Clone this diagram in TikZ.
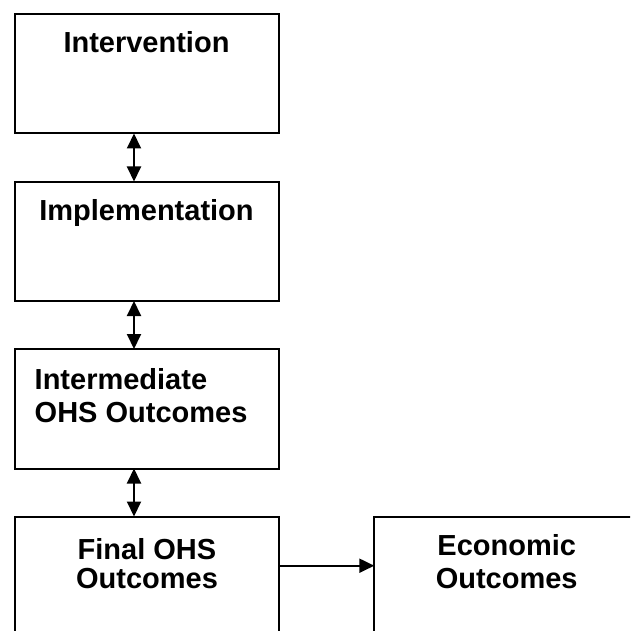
\documentclass[tikz,border=0pt]{standalone}
\usepackage{fontspec}
\setmainfont{Liberation Sans}
\usetikzlibrary{arrows.meta}
\begin{document}
\begin{tikzpicture}[x=1pt,y=-1pt,
  box/.style={draw=black, line width=2pt, rectangle, anchor=north west,
    minimum width=264pt, minimum height=119.5pt, inner sep=0pt, outer sep=0pt},
  widebox/.style={box, minimum width=270pt},
  lbl/.style={font=\fontsize{29}{34}\selectfont\bfseries, inner sep=0pt, anchor=base},
  lbll/.style={lbl, anchor=base west},
  link/.style={line width=2pt, {Triangle[length=15pt,width=14pt]}-{Triangle[length=15pt,width=14pt]}},
  flow/.style={line width=2pt, -{Triangle[length=15pt,width=14pt]}}]
  \useasboundingbox (0,0) rectangle (630,631);
  \fill[white] (0,0) rectangle (630,631);
  \clip (0,0) rectangle (630,631);

  % stacked boxes
  \node[box] (interv) at (15,14) {};
  \node[box] (impl)   at (15,181.5) {};
  \node[box] (inter)  at (15,349) {};
  \node[box] (final)  at (15,516.5) {};
  \node[widebox] (econ) at (374.3,516.5) {};

  % box texts
  \node[lbl]  (t1)  at (146.5,52.5) {Intervention};
  \node[lbl]  (t2)  at (146.5,220.5) {Implementation};
  \node[lbll] (t3a) at (34.5,389) {Intermediate};
  \node[lbll] (t3b) at (34.5,422.5) {OHS Outcomes};
  \node[lbl]  (t4a) at (147,559) {Final OHS};
  \node[lbl]  (t4b) at (147,588.5) {Outcomes};
  \node[lbl]  (t5a) at (506.7,555) {Economic};
  \node[lbl]  (t5b) at (506.7,588.5) {Outcomes};

  % two-way links between stacked boxes
  \draw[link] ([xshift=119pt]interv.south west) -- ([xshift=119pt]impl.north west);
  \draw[link] ([xshift=119pt]impl.south west) -- ([xshift=119pt]inter.north west);
  \draw[link] ([xshift=119pt]inter.south west) -- ([xshift=119pt]final.north west);

  % final outcomes feed economic outcomes
  \draw[flow] ([yshift=-49.2pt]final.north east) -- ([yshift=-49.2pt]econ.north west);
\end{tikzpicture}
\end{document}
